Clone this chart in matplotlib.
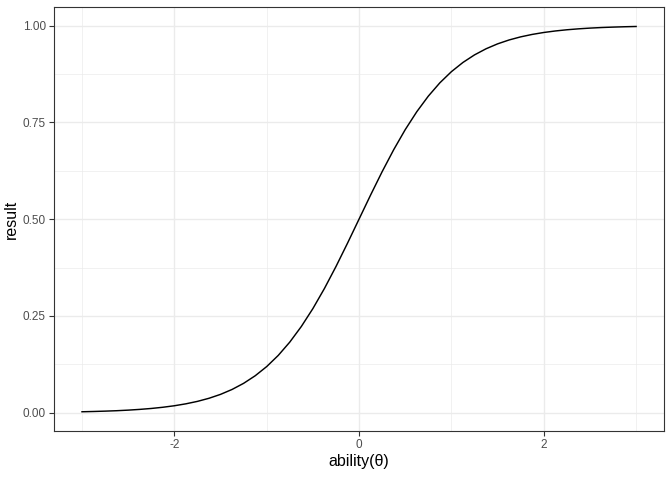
import numpy as np
import matplotlib
matplotlib.use('Agg')
import matplotlib.pyplot as plt
matplotlib.rcParams['font.family'] = ['Liberation Sans', 'DejaVu Sans']

# vrijednosti očitane sa slike (korak 0.125)
ability = np.linspace(-3, 3, 49)
result = [0.0025, 0.0032, 0.0041, 0.0052, 0.0067, 0.0086, 0.0110, 0.0141,
          0.0180, 0.0230, 0.0293, 0.0373, 0.0474, 0.0601, 0.0759, 0.0954,
          0.1192, 0.1480, 0.1824, 0.2227, 0.2689, 0.3208, 0.3775, 0.4378,
          0.5000,
          0.5622, 0.6225, 0.6792, 0.7311, 0.7773, 0.8176, 0.8520, 0.8808,
          0.9046, 0.9241, 0.9399, 0.9526, 0.9627, 0.9707, 0.9770, 0.9820,
          0.9859, 0.9890, 0.9914, 0.9933, 0.9948, 0.9959, 0.9968, 0.9975]
x_ticks = [-2, 0, 2]
x_minor = [-3, -1, 1, 3]
y_ticks = [0.00, 0.25, 0.50, 0.75, 1.00]
y_minor = [0.125, 0.375, 0.625, 0.875]

fig = plt.figure(figsize=(6.72, 4.8), dpi=100)
ax = fig.add_axes([0.0808, 0.102, 0.907, 0.883])

for v in x_minor:
    ax.axvline(v, color='#EBEBEB', lw=0.5, zorder=0)
for v in y_minor:
    ax.axhline(v, color='#EBEBEB', lw=0.5, zorder=0)
for v in x_ticks:
    ax.axvline(v, color='#EBEBEB', lw=1.0, zorder=0)
for v in y_ticks:
    ax.axhline(v, color='#EBEBEB', lw=1.0, zorder=0)

ax.plot(ability, result, color='black', lw=1.05)

ax.set_xlim(-3.3, 3.3)
ax.set_ylim(-0.0473, 1.0473)
ax.set_xticks(x_ticks)
ax.set_xticklabels([str(v) for v in x_ticks])
ax.set_yticks(y_ticks)
ax.set_yticklabels([f"{v:.2f}" for v in y_ticks])
ax.tick_params(length=3.5, width=0.8, color='#333333', labelcolor='#4D4D4D',
               labelsize=8.5, pad=2.5)
for s in ax.spines.values():
    s.set_color('#333333')
    s.set_linewidth(0.8)

ax.set_xlabel('ability(θ)', fontsize=11.5, labelpad=2)
ax.set_ylabel('result', fontsize=11.5, labelpad=3)

plt.savefig('out.png', dpi=100)
